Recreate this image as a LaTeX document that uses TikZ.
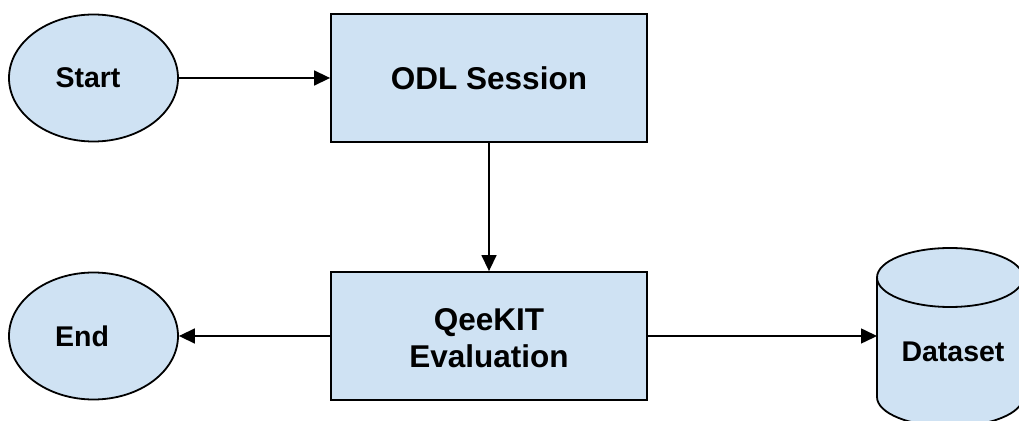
\documentclass[tikz,border=0pt]{standalone}
\usepackage{fontspec}
\setmainfont{Liberation Sans}
\usetikzlibrary{arrows.meta,shapes.geometric}
\definecolor{boxfill}{HTML}{CFE2F3}
\begin{document}
\begin{tikzpicture}[x=1pt,y=1pt,
  shapeline/.style={draw=black, line width=1.8pt, fill=boxfill},
  procbox/.style={shapeline, rectangle, inner sep=0pt, minimum width=316pt, minimum height=128pt},
  termnode/.style={shapeline, ellipse, inner sep=0pt, minimum width=169pt, minimum height=127pt},
  lbl/.style={font=\bfseries\fontsize{28.5}{33}\selectfont, align=center, inner sep=0pt},
  biglbl/.style={font=\bfseries\fontsize{31.5}{36.5}\selectfont, align=center, inner sep=0pt},
  arr/.style={line width=1.5pt, -{Triangle[length=16pt,width=15pt]}}
]
\useasboundingbox (0,0) rectangle (1019,420);
\clip (0,0) rectangle (1019,420);

% terminals
\node[termnode] (start) at (93.5,342) {};
\node[lbl] (startlbl) at (88,342) {Start};
\node[termnode] (end) at (93.5,84) {};
\node[lbl] (endlbl) at (82,84) {End};

% process boxes
\node[procbox] (odl) at (489,342) {};
\node[biglbl] (odllbl) at (489,342) {ODL Session};
\node[procbox] (qee) at (489,84) {};
\node[biglbl] (qeelbl) at (489,82) {QeeKIT\\Evaluation};

% dataset cylinder
\fill[boxfill] (877,23) rectangle (1023,142.5);
\fill[boxfill] (950,23) ellipse[x radius=73, y radius=29.5];
\draw[line width=1.8pt] (877,142.5) -- (877,23) arc[start angle=180, end angle=360, x radius=73, y radius=29.5] -- (1023,142.5);
\draw[line width=1.8pt, fill=boxfill] (950,142.5) ellipse[x radius=73, y radius=29.5];
\coordinate (dsleft) at (877,84);
\node[lbl] (dslbl) at (953,68) {Dataset};

% connectors
\draw[arr] (start.east) -- (odl.west);
\draw[arr] (odl.south) -- (qee.north);
\draw[arr] (qee.west) -- (end.east);
\draw[arr] (qee.east) -- (dsleft);
\end{tikzpicture}
\end{document}
